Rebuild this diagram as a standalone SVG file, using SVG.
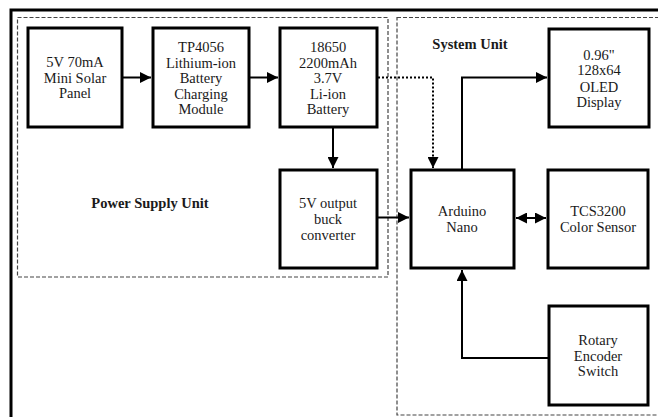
<svg xmlns="http://www.w3.org/2000/svg" width="658" height="417" viewBox="0 0 658 417">
<style>
.box{fill:#fff;stroke:#000;stroke-width:3}
.grp{fill:none;stroke:#444;stroke-width:1.2;stroke-dasharray:4 2}
.t{font-family:"Liberation Serif","Times New Roman",serif;font-size:14.5px;fill:#1a1a1a;text-anchor:middle}
.b{font-weight:bold}
.ln{fill:none;stroke:#000;stroke-width:2}
.dot{fill:none;stroke:#000;stroke-width:2;stroke-dasharray:2 2}
</style>
<defs>
<marker id="ah" viewBox="0 0 10 10" refX="10" refY="5" markerWidth="5.5" markerHeight="5.5" orient="auto-start-reverse" markerUnits="strokeWidth">
<path d="M0,0 L10,5 L0,10 z" fill="#000"/>
</marker>
</defs>
<rect width="658" height="417" fill="#fff"/>
<rect x="11" y="10" width="700" height="450" fill="none" stroke="#000" stroke-width="3"/>
<g id="power-supply-unit">
<rect class="grp" x="17.5" y="17.5" width="370.5" height="259.5"/>
<text class="t b" x="150" y="208">Power Supply Unit</text>
</g>
<g id="system-unit">
<rect class="grp" x="397" y="17.5" width="300" height="397.5"/>
<text class="t b" x="470" y="49">System Unit</text>
</g>
<g id="connectors">
<line class="ln" x1="123" y1="77.5" x2="151" y2="77.5" marker-end="url(#ah)"/>
<line class="ln" x1="249" y1="77.5" x2="278" y2="77.5" marker-end="url(#ah)"/>
<line class="ln" x1="333" y1="128" x2="333" y2="168" marker-end="url(#ah)"/>
<polyline class="dot" points="378,77.5 433,77.5 433,168" marker-end="url(#ah)"/>
<line class="ln" x1="378" y1="217.5" x2="409" y2="217.5" marker-end="url(#ah)"/>
<polyline class="ln" points="462,169 462,77.5 547,77.5" marker-end="url(#ah)"/>
<line class="ln" x1="516" y1="218" x2="546" y2="218" marker-start="url(#ah)" marker-end="url(#ah)"/>
<polyline class="ln" points="548,358 462,358 462,270" marker-end="url(#ah)"/>
</g>
<g id="solar-panel">
<rect class="box" x="28" y="28" width="94" height="99"/>
<text class="t" x="75" y="67">5V 70mA</text>
<text class="t" x="75" y="83">Mini Solar</text>
<text class="t" x="75" y="98">Panel</text>
</g>
<g id="tp4056">
<rect class="box" x="153" y="28" width="96" height="99"/>
<text class="t" x="201" y="52">TP4056</text>
<text class="t" x="201" y="68">Lithium-ion</text>
<text class="t" x="201" y="83">Battery</text>
<text class="t" x="201" y="99">Charging</text>
<text class="t" x="201" y="114">Module</text>
</g>
<g id="battery">
<rect class="box" x="280" y="28" width="97" height="99"/>
<text class="t" x="328" y="52">18650</text>
<text class="t" x="328" y="68">2200mAh</text>
<text class="t" x="328" y="83">3.7V</text>
<text class="t" x="328" y="99">Li-ion</text>
<text class="t" x="328" y="114">Battery</text>
</g>
<g id="buck-converter">
<rect class="box" x="280" y="170" width="97" height="98"/>
<text class="t" x="328" y="208">5V output</text>
<text class="t" x="328" y="224">buck</text>
<text class="t" x="328" y="240">converter</text>
</g>
<g id="arduino-nano">
<rect class="box" x="411" y="170" width="103" height="98"/>
<text class="t" x="462" y="216">Arduino</text>
<text class="t" x="462" y="232">Nano</text>
</g>
<g id="color-sensor">
<rect class="box" x="548" y="170" width="100" height="98"/>
<text class="t" x="598" y="216">TCS3200</text>
<text class="t" x="598" y="232">Color Sensor</text>
</g>
<g id="oled-display">
<rect class="box" x="549" y="29" width="100" height="98"/>
<text class="t" x="599" y="60">0.96"</text>
<text class="t" x="599" y="75">128x64</text>
<text class="t" x="599" y="92">OLED</text>
<text class="t" x="599" y="107">Display</text>
</g>
<g id="rotary-encoder">
<rect class="box" x="549" y="306" width="99" height="99"/>
<text class="t" x="598" y="345">Rotary</text>
<text class="t" x="598" y="361">Encoder</text>
<text class="t" x="598" y="376">Switch</text>
</g>
</svg>
